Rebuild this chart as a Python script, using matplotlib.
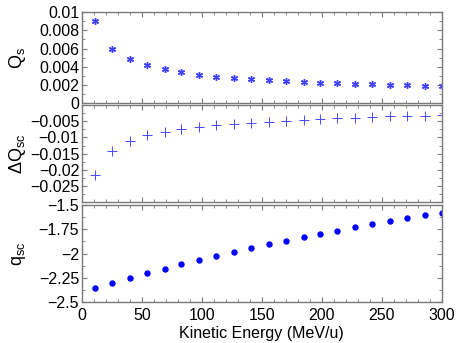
import numpy as np
import matplotlib
matplotlib.use("Agg")
import matplotlib.pyplot as plt
from matplotlib.ticker import MultipleLocator

plt.rcParams['font.family'] = ['Liberation Sans', 'DejaVu Sans']
plt.rcParams['mathtext.fontset'] = 'custom'
plt.rcParams['mathtext.rm'] = 'Liberation Sans'
plt.rcParams['mathtext.it'] = 'Liberation Sans'
plt.rcParams['mathtext.default'] = 'regular'

# ====== data ======
energy = [11, 25, 40, 54, 69, 83, 98, 112, 127, 141, 156,
          170, 185, 199, 213, 228, 242, 257, 271, 286, 300]
Qs = [0.0090, 0.0060, 0.00483, 0.00415, 0.00372, 0.00339, 0.00314,
      0.00293, 0.00275, 0.00263, 0.00250, 0.00242, 0.00234, 0.00227,
      0.00218, 0.00213, 0.00207, 0.00202, 0.00197, 0.00193, 0.00189]
dQsc = [-0.0216, -0.0142, -0.0112, -0.0094, -0.0082, -0.0074, -0.0067,
        -0.0062, -0.0058, -0.0054, -0.0051, -0.0048, -0.0046, -0.0044,
        -0.0041, -0.0039, -0.0038, -0.0035, -0.0034, -0.0033, -0.0032]
qsc = [-2.352, -2.300, -2.250, -2.203, -2.155, -2.107, -2.065,
       -2.022, -1.980, -1.940, -1.903, -1.866, -1.830, -1.795,
       -1.763, -1.729, -1.698, -1.667, -1.637, -1.606, -1.578]

xticks = [0, 50, 100, 150, 200, 250, 300]
qs_ticks = [0, 0.002, 0.004, 0.006, 0.008, 0.01]
qs_labels = ["0", "0.002", "0.004", "0.006", "0.008", "0.01"]
dq_ticks = [-0.025, -0.02, -0.015, -0.01, -0.005]
dq_labels = ["\u22120.025", "\u22120.02", "\u22120.015", "\u22120.01", "\u22120.005"]
q_ticks = [-2.5, -2.25, -2, -1.75, -1.5]
q_labels = ["\u22122.5", "\u22122.25", "\u22122", "\u22121.75", "\u22121.5"]

W, H = 463, 343
fig = plt.figure(figsize=(W / 100, H / 100), dpi=100)

def box(top, bottom):
    return [82 / W, 1 - bottom / H, (441.5 - 82) / W, (bottom - top) / H]

ax1 = fig.add_axes(box(12, 103.3))
ax2 = fig.add_axes(box(105, 202.3))
ax3 = fig.add_axes(box(205, 302.3))

spine_col = "#7a7a7a"
for ax in (ax1, ax2, ax3):
    ax.set_xlim(0, 300)
    ax.set_xticks(xticks)
    ax.xaxis.set_minor_locator(MultipleLocator(10))
    ax.tick_params(which="both", direction="in", top=True, right=True,
                   color=spine_col, labelsize=11.5, pad=2)
    ax.tick_params(which="major", length=3.5, width=0.8)
    ax.tick_params(which="minor", length=2, width=0.6)
    for s in ax.spines.values():
        s.set_color(spine_col)
        s.set_linewidth(1.0)

# ====== Qs ======
ax1.plot(energy, Qs, linestyle="none", marker=(6, 2, 0), markersize=5,
         markeredgewidth=1.0, color="#4040ff")
ax1.set_ylim(0, 0.01)
ax1.set_yticks(qs_ticks)
ax1.set_yticklabels(qs_labels)
ax1.yaxis.set_minor_locator(MultipleLocator(0.001))
ax1.set_xticklabels([])
ax1.set_ylabel(r"$Q_s$", fontsize=13)

# ====== dQsc ======
ax2.plot(energy, dQsc, linestyle="none", marker="+", markersize=7,
         markeredgewidth=0.7, color="#4848ff")
ax2.set_ylim(-0.03, 0)
ax2.set_yticks(dq_ticks)
ax2.set_yticklabels(dq_labels)
ax2.yaxis.set_minor_locator(MultipleLocator(0.0025))
ax2.set_xticklabels([])
ax2.set_ylabel(r"$\Delta Q_{sc}$", fontsize=13)

# ====== qsc ======
ax3.plot(energy, qsc, linestyle="none", marker="o", markersize=3.6,
         color="#0000ff")
ax3.set_ylim(-2.5, -1.5)
ax3.set_yticks(q_ticks)
ax3.set_yticklabels(q_labels)
ax3.yaxis.set_minor_locator(MultipleLocator(0.125))
ax3.tick_params(axis="x", pad=4)
ax3.set_xlabel("Kinetic Energy (MeV/u)", fontsize=11.5, labelpad=2)
ax3.set_ylabel(r"$q_{sc}$", fontsize=13)

for ax in (ax1, ax2, ax3):
    ax.yaxis.set_label_coords(-0.15, 0.5)

fig.savefig("out.png", dpi=100)
